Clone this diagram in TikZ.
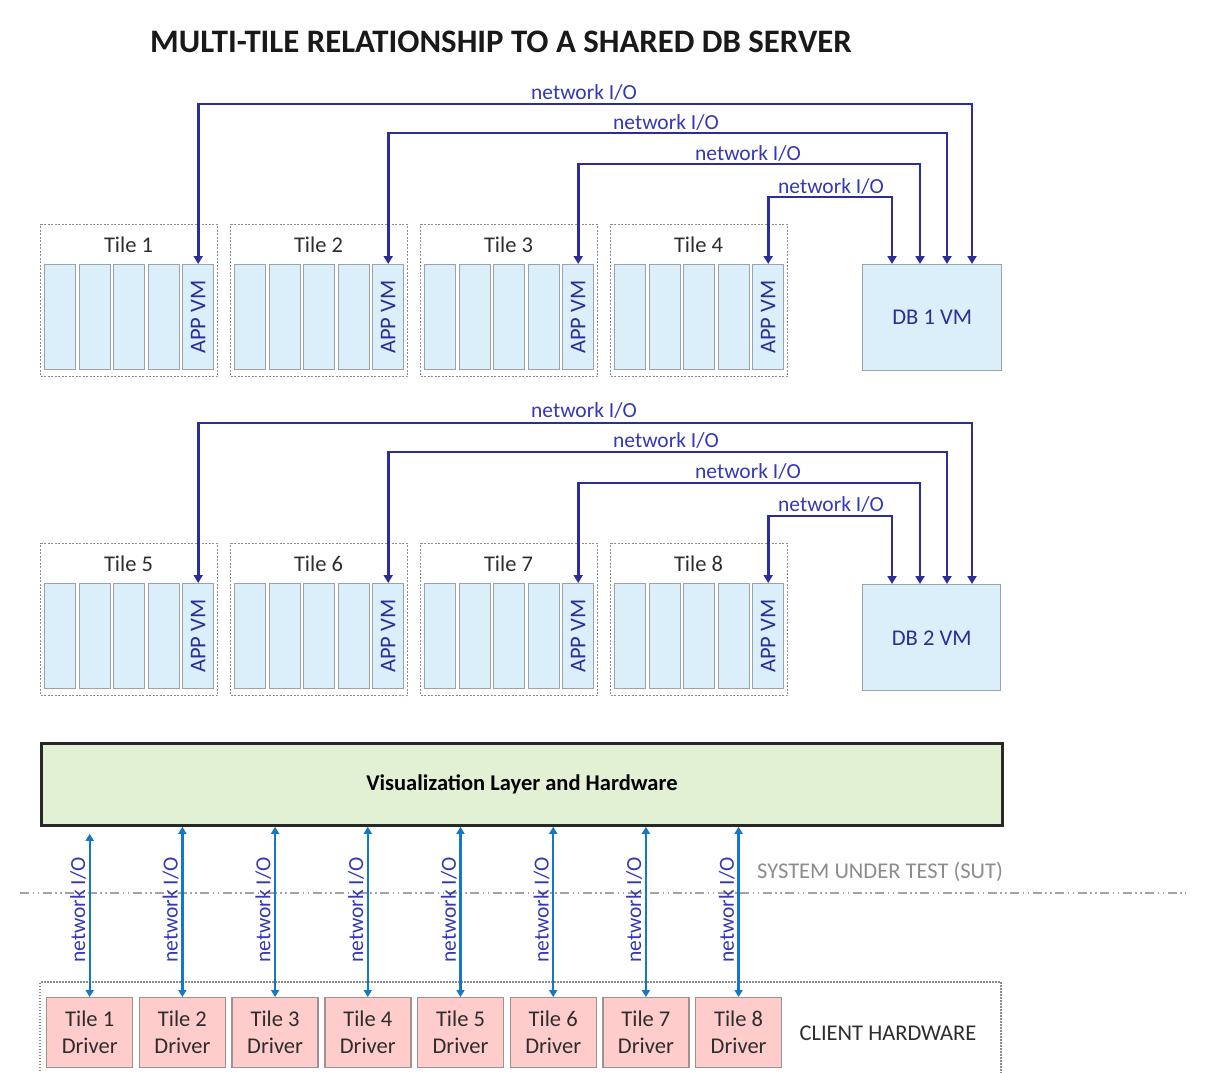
\documentclass[tikz,border=0pt]{standalone}
\usepackage{fontspec}
\setmainfont{Carlito}
\usetikzlibrary{arrows.meta}
\definecolor{vmfill}{RGB}{219,239,251}
\definecolor{vmborder}{RGB}{155,162,170}
\definecolor{netline}{RGB}{42,46,150}
\definecolor{nettext}{RGB}{52,56,178}
\definecolor{bluearrow}{RGB}{20,120,200}
\definecolor{vizfill}{RGB}{226,240,212}
\definecolor{vizborder}{RGB}{40,40,40}
\definecolor{pinkfill}{RGB}{255,204,204}
\definecolor{pinkborder}{RGB}{160,145,145}
\definecolor{tilegray}{RGB}{140,140,140}
\definecolor{darktext}{RGB}{45,45,45}
\definecolor{sutgray}{RGB}{140,140,140}
\begin{document}
\begin{tikzpicture}[x=1pt,y=-1pt,
  every node/.style={font=\fontsize{22.5}{28}\selectfont, inner sep=0pt},
  tilebox/.style={draw=tilegray, line width=1.4pt, dash pattern=on 2pt off 1.5pt, minimum width=177pt, minimum height=152pt, anchor=north west},
  tilelbl/.style={text=darktext},
  vmcol/.style={draw=vmborder, fill=vmfill, line width=1.4pt, minimum width=31pt, minimum height=105pt, anchor=north west},
  appvm/.style={vmcol, text=netline},
  dbbox/.style={draw=vmborder, fill=vmfill, line width=1.4pt, minimum width=139pt, minimum height=106pt, anchor=north west, text=netline},
  netarrow/.style={draw=netline, line width=2.8pt, {Triangle[width=9pt,length=8pt]}-{Triangle[width=9pt,length=8pt]}},
  nettxt/.style={text=nettext, font=\fontsize{21.5}{26}\selectfont},
  vizbox/.style={draw=vizborder, fill=vizfill, line width=2.8pt, minimum width=961pt, minimum height=82pt, anchor=north west, font=\bfseries\fontsize{22.5}{28}\selectfont, text=black},
  driver/.style={draw=pinkborder, fill=pinkfill, line width=1.4pt, minimum width=86pt, minimum height=70pt, anchor=north west, align=center, text=darktext},
  biarrow/.style={draw=bluearrow, line width=2.3pt, {Triangle[width=8pt,length=7pt]}-{Triangle[width=8pt,length=7pt]}},
  sutline/.style={draw=sutgray!80, line width=1.4pt, dash pattern=on 9pt off 3.5pt on 1.5pt off 3.5pt on 1.5pt off 3.5pt},
  clientbox/.style={draw=tilegray, line width=1.3pt, dash pattern=on 1.5pt off 1.5pt}
]
\useasboundingbox (0,0) rectangle (1210,1072);

% title
\node[font=\bfseries\fontsize{32.8}{38}\selectfont, text=black!90] (title) at (501,42) {MULTI-TILE RELATIONSHIP TO A SHARED DB SERVER};

% tiles
\foreach \n in {1,...,8}{
  \pgfmathtruncatemacro\c{mod(\n-1,4)}
  \pgfmathtruncatemacro\r{(\n-1)/4}
  \pgfmathsetmacro\xo{40+190*\c}
  \pgfmathsetmacro\yo{224+319*\r}
  \node[tilebox] (tile\n) at (\xo,\yo) {};
  \node[tilelbl] (tl\n) at (\xo+88.5,\yo+21) {Tile \n};
  \foreach \k in {0,...,3}{
    \node[vmcol] (c\n-\k) at (\xo+4+34.5*\k,\yo+40) {};
  }
  \node[appvm] (app\n) at (\xo+142,\yo+40) {\rotatebox{90}{APP VM}};
}

% DB servers
\node[dbbox] (db1) at (862,264) {DB 1 VM};
\node[dbbox, minimum width=138pt] (db2) at (862,584) {DB 2 VM};

% network connectors
\foreach \n/\dx/\h in {1/110/160, 2/85/131, 3/58/100, 4/30/67}{
  \draw[netarrow] (app\n.north) -- ++(0,-\h) -| ([xshift=\dx pt]db1.north west);
  \pgfmathtruncatemacro\m{\n+4}
  \draw[netarrow] (app\m.north) -- ++(0,-\h) -| ([xshift=\dx pt]db2.north west);
}
\foreach \n/\lx/\ly in {1/584/92, 2/666/122, 3/748/153, 4/831/186}{
  \node[nettxt] (nla\n) at (\lx,\ly) {network I/O};
  \node[nettxt] (nlb\n) at (\lx,\ly+318) {network I/O};
}

% visualization layer
\node[vizbox] (viz) at (40,742) {Visualization Layer and Hardware};

% SUT line
\coordinate (sutL) at (20,893);
\coordinate (sutR) at (1186,893);
\draw[sutline] (sutL) -- (sutR);
\node[text=sutgray, anchor=west] (sut) at (757,872) {SYSTEM UNDER TEST (SUT)};

% client hardware box
\coordinate (cbl) at (40,1074);
\coordinate (cbtl) at (40,982);
\coordinate (cbtr) at (1001,982);
\coordinate (cbr) at (1001,1074);
\draw[clientbox] (cbl) -- (cbtl) -- (cbtr) -- (cbr);
\node[text=darktext] (client) at (888,1033) {CLIENT HARDWARE};

% drivers
\foreach \i in {1,...,8}{
  \node[driver] (d\i) at ({46+92.7*(\i-1)},997) {Tile \i\\[-1pt]Driver};
  \node[nettxt, rotate=90] (bl\i) at ({89+92.7*(\i-1)-11},910) {network I/O};
}
\draw[biarrow, shorten >=7pt] (d1.north) -- (d1.north |- viz.south);
\foreach \i in {2,...,8}{
  \draw[biarrow] (d\i.north) -- (d\i.north |- viz.south);
}
\end{tikzpicture}
\end{document}
